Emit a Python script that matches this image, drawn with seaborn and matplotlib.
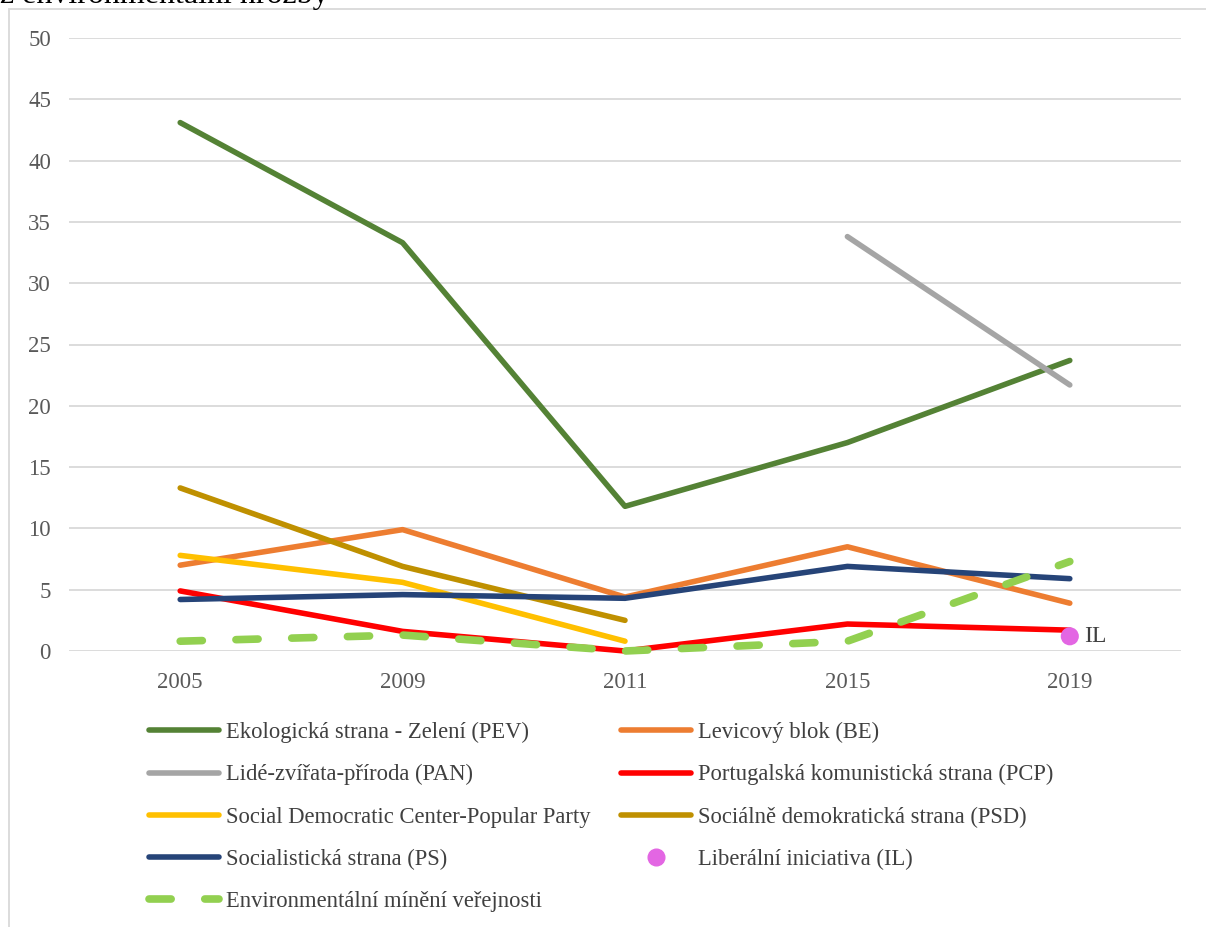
import matplotlib
matplotlib.use("Agg")
import matplotlib.pyplot as plt
import seaborn as sns
import numpy as np
import pandas as pd
from matplotlib.lines import Line2D
from matplotlib.patches import Rectangle

# data
years = ["2005", "2009", "2011", "2015", "2019"]
pev = [43.1, 33.3, 11.8, 17.0, 23.7]
be = [7.0, 9.9, 4.4, 8.5, 3.9]
pan = [np.nan, np.nan, np.nan, 33.8, 21.7]
pcp = [4.9, 1.6, 0.0, 2.2, 1.7]
cds = [7.8, 5.6, 0.8, np.nan, np.nan]
psd = [13.3, 6.9, 2.5, np.nan, np.nan]
ps = [4.2, 4.6, 4.3, 6.9, 5.9]
il = [np.nan, np.nan, np.nan, np.nan, 1.2]
env = [0.8, 1.3, 0.0, 0.8, 7.3]

names = {
    "pev": "Ekologická strana - Zelení (PEV)",
    "be": "Levicový blok (BE)",
    "pan": "Lidé-zvířata-příroda (PAN)",
    "pcp": "Portugalská komunistická strana (PCP)",
    "cds": "Social Democratic Center-Popular Party",
    "psd": "Sociálně demokratická strana (PSD)",
    "ps": "Socialistická strana (PS)",
    "il": "Liberální iniciativa (IL)",
    "env": "Environmentální mínění veřejnosti",
}
colors = {
    "pev": "#548235", "be": "#ED7D31", "pan": "#A5A5A5", "pcp": "#FF0000",
    "cds": "#FFC000", "psd": "#BF9000", "ps": "#264478", "il": "#E366E3",
    "env": "#92D050",
}

sns.set_theme(style="white")
plt.rcParams['font.family'] = ['Liberation Serif', 'DejaVu Serif']

df = pd.DataFrame({"year": years, "pev": pev, "be": be, "pan": pan, "pcp": pcp,
                   "cds": cds, "psd": psd, "ps": ps, "il": il, "env": env})

fig = plt.figure(figsize=(12.06, 9.27), dpi=100)
ax = fig.add_axes([69 / 1206, 1 - 651 / 927, 1112 / 1206, 613 / 927])

lw = 4.0
for key in ["pev", "be", "pan", "pcp", "cds", "psd", "ps"]:
    sub = df[["year", key]].dropna()
    sns.lineplot(data=sub, x="year", y=key, ax=ax, color=colors[key], lw=lw,
                 sort=False, solid_capstyle="round", solid_joinstyle="round",
                 clip_on=False)

sub = df[["year", "env"]].dropna()
sns.lineplot(data=sub, x="year", y="env", ax=ax, color=colors["env"], lw=5.5,
             sort=False, clip_on=False)
ax.lines[-1].set_dashes((2.9, 4.4))
ax.lines[-1].set_dash_capstyle("round")

sub = df[["year", "il"]].dropna()
sns.scatterplot(data=sub, x="year", y="il", ax=ax, color=colors["il"], s=170,
                edgecolor="none", zorder=5, clip_on=False)
ax.annotate("IL", (4, il[4]), xytext=(10, 0), textcoords="offset points",
            va="center", ha="left", fontsize=17, color="#404040")

ax.set_xlim(-0.5, 4.5)
ax.set_ylim(0, 50)
ax.set_yticks(range(0, 51, 5))
ax.yaxis.grid(True, color="#D9D9D9", lw=1.3)
ax.xaxis.grid(False)
for s in ax.spines.values():
    s.set_visible(False)
ax.tick_params(axis="both", length=0, labelsize=16.5, colors="#595959")
ax.tick_params(axis="y", pad=13)
ax.tick_params(axis="x", pad=15)
ax.set_xlabel("")
ax.set_ylabel("")

# legend, row-wise order
order = ["pev", "pan", "cds", "ps", "env", "be", "pcp", "psd", "il"]
handles = []
for key in order:
    if key == "il":
        h = Line2D([], [], color=colors[key], marker="o", ms=12, lw=0)
    elif key == "env":
        h = Line2D([], [], color=colors[key], lw=5.5, dashes=(2.9, 4.4),
                   dash_capstyle="round")
    else:
        h = Line2D([], [], color=colors[key], lw=lw, solid_capstyle="round")
    handles.append(h)
leg = fig.legend(handles, [names[k] for k in order], ncol=2, frameon=False,
                 loc="upper left", bbox_to_anchor=(140 / 1206, 1 - 713 / 927),
                 fontsize=16.3, handlelength=3.1, handletextpad=0.3,
                 columnspacing=1.35, labelspacing=0.93, borderaxespad=0)
for t in leg.get_texts():
    t.set_color("#404040")

# chart area border and clipped heading
fig.patches.append(Rectangle((9 / 1206, -0.1), 1.2, 1 - 9 / 927 + 0.1,
                             transform=fig.transFigure, fill=False,
                             edgecolor="#D9D9D9", lw=1.3))
fig.text(0.0, 1 - 3 / 927, "z environmentální hrozby", fontsize=23,
         color="black", ha="left", va="baseline")

fig.savefig("out.png", dpi=100)
